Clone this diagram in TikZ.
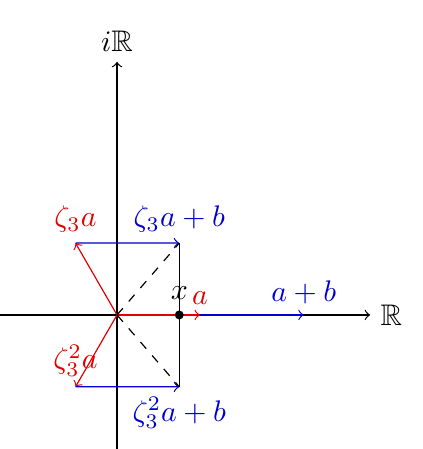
\documentclass[tikz,border=0pt]{standalone}
\usepackage{amsmath}
\usepackage{amssymb}
\usetikzlibrary{positioning}

\colorlet{vecred}{red!88!black}
\colorlet{vecblue}{blue!80!black}

\begin{document}
\begin{tikzpicture}[
        x=0.49cm, y=0.49cm,
        axis/.style={->},
        vec/.style={->},
        dot/.style={circle, fill=black, inner sep=0pt, minimum size=3pt}
        ]
        \useasboundingbox (-2.82,-3.23) rectangle (7.37,7.59);

        \coordinate (o) at (0,0);
        \coordinate (xl) at (-2.9,0);
        \coordinate (xr) at (6.1,0);
        \coordinate (yb) at (0,-3.3);
        \coordinate (yt) at (0,6.1);
        \coordinate (a) at (2,0);
        \coordinate (ab) at (4.5,0);
        \coordinate (za) at (120:2);
        \coordinate (zza) at (240:2);
        \coordinate (zab) at (1.5,1.732);
        \coordinate (zzab) at (1.5,-1.732);

        % axes
        \draw[axis] (xl) -- (xr) node[right] (re) {$\mathbb{R}$};
        \draw[axis] (yb) -- (yt) node[above] (im) {$i\mathbb{R}$};

        % vectors
        \draw[vec, vecblue] (o) -- (ab) node[above] (abl) {$a+b$};
        \draw[vec, vecred] (o) -- (a) node[above] (al) {$a$};
        \draw[vec, vecred] (o) -- (za) node[above] (zal) {$\zeta_3 a$};
        \draw[vec, vecred] (o) -- (zza) node[above] (zzal) {$\zeta_3^2 a$};
        \draw[vec, vecblue] (za) -- (zab) node[above] (zabl) {$\zeta_3 a+b$};
        \draw[vec, vecblue] (zza) -- (zzab) node[below] (zzabl) {$\zeta_3^2 a+b$};
        \draw (zab) -- (zzab);
        \draw[dashed] (o) -- (zab);
        \draw[dashed] (o) -- (zzab);

        \node[dot, label={above:$x$}] (x) at (1.5,0) {};
\end{tikzpicture}
\end{document}
